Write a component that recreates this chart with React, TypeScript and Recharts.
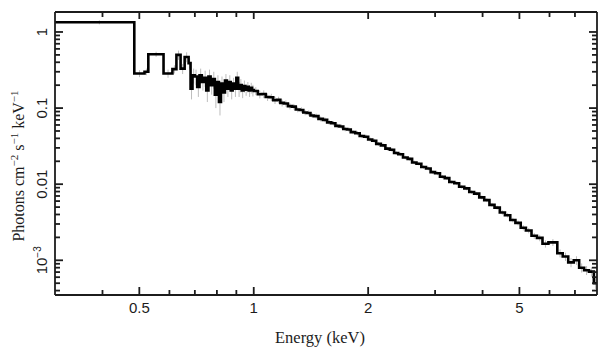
import React from "react";
import { ComposedChart, Line, Scatter, ErrorBar, XAxis, YAxis } from "recharts";

// bin lower edges (keV); the last bin closes at binEndLast
const binStart = [
  0.3, 0.485, 0.516, 0.528, 0.579, 0.611, 0.626, 0.642, 0.658, 0.674,
  0.682, 0.69, 0.7, 0.71, 0.72, 0.73, 0.74, 0.75, 0.76, 0.77,
  0.78, 0.79, 0.8, 0.81, 0.82, 0.83, 0.84, 0.85, 0.86, 0.87,
  0.88, 0.89, 0.9, 0.91, 0.92, 0.93, 0.94, 0.95, 0.96, 0.97,
  0.98, 0.99, 1.0, 1.025, 1.05, 1.075, 1.1, 1.125, 1.15, 1.175,
  1.2, 1.23, 1.26, 1.29, 1.32, 1.35, 1.38, 1.41, 1.44, 1.48,
  1.52, 1.56, 1.6, 1.64, 1.68, 1.72, 1.76, 1.8, 1.85, 1.9,
  1.95, 2.0, 2.05, 2.1, 2.16, 2.22, 2.28, 2.34, 2.4, 2.47,
  2.54, 2.61, 2.68, 2.76, 2.84, 2.92, 3.0, 3.09, 3.18, 3.27,
  3.37, 3.47, 3.58, 3.69, 3.8, 3.92, 4.04, 4.17, 4.3, 4.44,
  4.58, 4.73, 4.88, 5.04, 5.2, 5.38, 5.56, 5.75, 5.96, 6.29,
  6.5, 6.72, 6.95, 7.18, 7.4, 7.62, 7.85,
];
const binEndLast = 8.0;

// photons cm^-2 s^-1 keV^-1
const flux = [
  1.34, 0.285, 0.3, 0.51, 0.285, 0.325, 0.5, 0.33, 0.47, 0.39,
  0.18, 0.27, 0.26, 0.19, 0.27, 0.22, 0.25, 0.17, 0.26, 0.2,
  0.24, 0.15, 0.22, 0.12, 0.21, 0.16, 0.23, 0.18, 0.22, 0.17,
  0.21, 0.18, 0.25, 0.18, 0.2, 0.17, 0.195, 0.175, 0.19, 0.17,
  0.185, 0.172, 0.168, 0.152, 0.153, 0.14, 0.139, 0.127, 0.128, 0.117,
  0.115, 0.106, 0.1045, 0.096, 0.0945, 0.0875, 0.0862, 0.08, 0.0785, 0.0722,
  0.0701, 0.0648, 0.0633, 0.0584, 0.0572, 0.0531, 0.0522, 0.0483, 0.0468, 0.043,
  0.0421, 0.0386, 0.0373, 0.0339, 0.0324, 0.0293, 0.0284, 0.0257, 0.0247, 0.0224,
  0.0215, 0.0193, 0.0186, 0.0168, 0.0161, 0.0144, 0.0139, 0.0125, 0.012, 0.0107,
  0.0103, 0.00925, 0.0088, 0.0079, 0.00752, 0.00672, 0.00618, 0.00535, 0.00492, 0.00425,
  0.00391, 0.00338, 0.0031, 0.00268, 0.00246, 0.0021, 0.00197, 0.00165, 0.00172, 0.00124,
  0.00112, 0.00094, 0.001, 0.0008, 0.00074, 0.00071, 0.0005,
];

const fluxErr = [
  0.08, 0.03, 0.03, 0.04, 0.035, 0.04, 0.07, 0.05, 0.07, 0.06,
  0.05, 0.06, 0.06, 0.05, 0.06, 0.05, 0.06, 0.05, 0.06, 0.05,
  0.06, 0.05, 0.05, 0.04, 0.05, 0.04, 0.05, 0.04, 0.05, 0.04,
  0.04, 0.04, 0.05, 0.04, 0.04, 0.035, 0.035, 0.03, 0.03, 0.03,
  0.03, 0.03, 0.02, 0.018, 0.018, 0.016, 0.015, 0.014, 0.013, 0.012,
  0.011, 0.01, 0.009, 0.008, 0.008, 0.007, 0.007, 0.006, 0.006, 0.0055,
  0.005, 0.005, 0.0045, 0.004, 0.004, 0.0036, 0.0034, 0.003, 0.003, 0.0028,
  0.0026, 0.0024, 0.0022, 0.002, 0.0019, 0.0017, 0.0016, 0.0015, 0.0014, 0.0013,
  0.0012, 0.0011, 0.001, 0.00095, 0.0009, 0.00082, 0.00078, 0.0007, 0.00066, 0.0006,
  0.00058, 0.00052, 0.0005, 0.00045, 0.00043, 0.0004, 0.00037, 0.00033, 0.0003, 0.00028,
  0.00026, 0.00024, 0.00023, 0.00021, 0.0002, 0.00019, 0.00019, 0.00018, 0.00018, 0.00015,
  0.00014, 0.00013, 0.00013, 0.00011, 0.0001, 0.0001, 0.00008,
];

const energyTicks = [0.4, 0.5, 0.6, 0.7, 0.8, 0.9, 1, 2, 3, 4, 5, 6, 7];
const energyLabels = [0.5, 1, 2, 5];
const fluxTicks = [
  0.0004, 0.0005, 0.0006, 0.0007, 0.0008, 0.0009,
  0.001, 0.002, 0.003, 0.004, 0.005, 0.006, 0.007, 0.008, 0.009,
  0.01, 0.02, 0.03, 0.04, 0.05, 0.06, 0.07, 0.08, 0.09,
  0.1, 0.2, 0.3, 0.4, 0.5, 0.6, 0.7, 0.8, 0.9, 1,
];
const fluxLabels = [0.001, 0.01, 0.1, 1];

const SANS = "'Liberation Sans', Arial, sans-serif";
const SERIF = "'Liberation Serif', 'Times New Roman', serif";
const INK = "#1c1c1c";
const TICK_W = 1.8;

const lineData = [...binStart, binEndLast].map((e, i) => ({
  e,
  v: flux[Math.min(i, flux.length - 1)],
}));
const errData = flux.map((v, i) => ({
  e: (binStart[i] + (binStart[i + 1] ?? binEndLast)) / 2,
  v,
  err: fluxErr[i],
}));

const BottomTick = (props: any) => {
  const { x, y, payload } = props;
  const major = energyLabels.includes(payload.value);
  return (
    <g>
      <line x1={x} y1={y} x2={x} y2={y - (major ? 8 : 5)} stroke={INK} strokeWidth={TICK_W} />
      {major && (
        <text x={x} y={y + 18} textAnchor="middle" fontSize={15} fontFamily={SANS} fill={INK}>
          {payload.value}
        </text>
      )}
    </g>
  );
};

const TopTick = (props: any) => {
  const { x, y, payload } = props;
  const major = energyLabels.includes(payload.value);
  return <line x1={x} y1={y} x2={x} y2={y + (major ? 7 : 5)} stroke={INK} strokeWidth={TICK_W} />;
};

const LeftTick = (props: any) => {
  const { x, y, payload } = props;
  const v = payload.value;
  const major = fluxLabels.includes(v);
  const lx = x - 8;
  return (
    <g>
      <line x1={x} y1={y} x2={x + (major ? 8 : 5)} y2={y} stroke={INK} strokeWidth={TICK_W} />
      {major && (
        <text
          transform={`rotate(-90 ${lx} ${y})`}
          x={lx}
          y={y}
          textAnchor="middle"
          fontSize={15}
          fontFamily={SANS}
          fill={INK}
        >
          {v === 0.001 ? (
            <>
              <tspan>10</tspan>
              <tspan dy={-6} fontSize={10}>−3</tspan>
            </>
          ) : (
            String(v)
          )}
        </text>
      )}
    </g>
  );
};

const RightTick = (props: any) => {
  const { x, y, payload } = props;
  const major = fluxLabels.includes(payload.value);
  return <line x1={x} y1={y} x2={x - (major ? 8 : 5)} y2={y} stroke={INK} strokeWidth={TICK_W} />;
};

const XTitle = () => (
  <text x={320} y={343} textAnchor="middle" fontSize={16.5} fontFamily={SERIF} fill={INK}>
    Energy (keV)
  </text>
);

const YTitle = () => (
  <text
    transform="rotate(-90 23.5 166)"
    x={23.5}
    y={166}
    textAnchor="middle"
    fontSize={16}
    fontFamily={SERIF}
    fill={INK}
  >
    Photons cm
    <tspan dy={-6} fontSize={11}>−2</tspan>
    <tspan dy={6}> s</tspan>
    <tspan dy={-6} fontSize={11}>−1</tspan>
    <tspan dy={6}> keV</tspan>
    <tspan dy={-6} fontSize={11}>−1</tspan>
  </text>
);

export default function App() {
  const xDomain = [0.3, binEndLast];
  const yDomain = [0.00035, 1.83];
  return (
    <div style={{ position: "absolute", left: 0, top: 0, background: "#fff" }}>
      <ComposedChart width={609} height={357} margin={{ top: 11, right: 11, bottom: 0, left: 0 }}>
        <XAxis
          xAxisId="b"
          dataKey="e"
          type="number"
          scale="log"
          domain={xDomain}
          allowDataOverflow
          ticks={energyTicks}
          interval={0}
          tickSize={0}
          tickMargin={0}
          tickLine={false}
          tick={<BottomTick />}
          height={62}
          axisLine={{ stroke: INK, strokeWidth: 1.8 }}
          label={<XTitle />}
        />
        <XAxis
          xAxisId="t"
          dataKey="e"
          orientation="top"
          type="number"
          scale="log"
          domain={xDomain}
          allowDataOverflow
          ticks={energyTicks}
          interval={0}
          tickSize={0}
          tickMargin={0}
          tickLine={false}
          tick={<TopTick />}
          height={1}
          axisLine={{ stroke: INK, strokeWidth: 1.8 }}
        />
        <YAxis
          yAxisId="l"
          dataKey="v"
          type="number"
          scale="log"
          domain={yDomain}
          allowDataOverflow
          ticks={fluxTicks}
          interval={0}
          tickSize={0}
          tickMargin={0}
          tickLine={false}
          tick={<LeftTick />}
          width={55}
          axisLine={{ stroke: INK, strokeWidth: 1.8 }}
          label={<YTitle />}
        />
        <YAxis
          yAxisId="r"
          dataKey="v"
          orientation="right"
          type="number"
          scale="log"
          domain={yDomain}
          allowDataOverflow
          ticks={fluxTicks}
          interval={0}
          tickSize={0}
          tickMargin={0}
          tickLine={false}
          tick={<RightTick />}
          width={1}
          axisLine={{ stroke: INK, strokeWidth: 1.8 }}
        />
        {/* invisible copy so the top and right frame axes get a domain */}
        <Line
          xAxisId="t"
          yAxisId="r"
          data={lineData}
          dataKey="v"
          stroke="none"
          dot={false}
          activeDot={false}
          isAnimationActive={false}
        />
        <Scatter
          xAxisId="b"
          yAxisId="l"
          data={errData}
          dataKey="v"
          shape={() => <g />}
          isAnimationActive={false}
        >
          <ErrorBar dataKey="err" direction="y" width={0} stroke="#bdbdbd" strokeWidth={1} />
        </Scatter>
        <Line
          xAxisId="b"
          yAxisId="l"
          data={lineData}
          dataKey="v"
          type="stepAfter"
          stroke="#000"
          strokeWidth={2.6}
          dot={false}
          isAnimationActive={false}
        />
      </ComposedChart>
    </div>
  );
}
